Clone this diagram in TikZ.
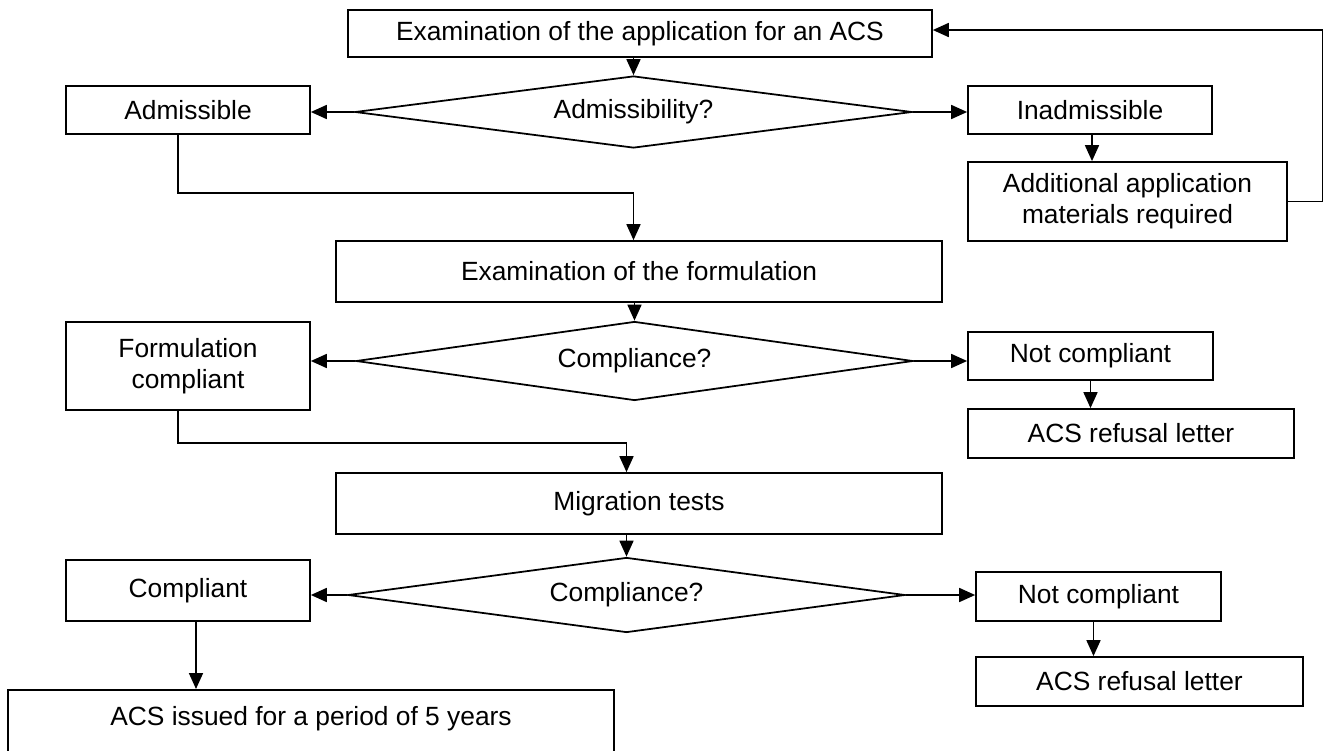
\documentclass[tikz,border=0pt]{standalone}
\usepackage{fontspec}
\setmainfont{Liberation Sans}
\usepackage{tikz}
\usetikzlibrary{arrows.meta, positioning, shapes.geometric, calc}

\begin{document}
\begin{tikzpicture}[
    x=0.02cm, y=-0.02cm,
    box/.style={draw, rectangle, line width=1pt, inner sep=2pt, align=center,
        font=\fontsize{15}{17.5}\selectfont},
    sidebox/.style={box, minimum width=4.88cm},
    decision/.style={draw, diamond, line width=1pt, inner sep=0pt,
        minimum width=11.14cm, font=\fontsize{15}{17.5}\selectfont},
    flow/.style={line width=1pt, -{Triangle[length=0.32cm, width=0.28cm]}}
]
    \useasboundingbox (0,0) rectangle (1323,751);

    % Zulassigkeit des Antrags
    \node[box, minimum width=11.68cm, minimum height=0.94cm] (exapp) at (640,33.5) {Examination of the application for an ACS};
    \node[decision, aspect=7.74, minimum height=1.44cm] (dia1) at (633.5,112) {Admissibility?};
    \node[sidebox, minimum height=0.96cm] (adm) at (188,110) {Admissible};
    \node[sidebox, minimum height=0.96cm] (inadm) at (1090,110) {Inadmissible};
    \node[box, minimum width=6.38cm, minimum height=1.58cm] (addl) at (1127.5,201.5) {Additional application\\materials required};
    \draw[flow] (exapp.south -| dia1.north) -- (dia1.north);
    \draw[flow] (dia1.west) -- (dia1.west -| adm.east);
    \draw[flow] (dia1.east) -- (dia1.east -| inadm.west);
    \draw[flow] ([xshift=0.04cm]inadm.south) -- ([xshift=0.04cm]inadm.south |- addl.north);
    \draw[flow] (addl.east) -- ++(35,0) |- ([yshift=0.07cm]exapp.east);

    % Rezeptur
    \node[box, minimum width=12.12cm, minimum height=1.22cm] (exform) at (639,271.5) {Examination of the formulation};
    \node[decision, aspect=7.05, minimum height=1.58cm] (dia2) at (634.5,361) {Compliance?};
    \node[sidebox, minimum height=1.76cm] (fcomp) at (188,366) {Formulation\\compliant};
    \node[sidebox, minimum width=4.9cm, minimum height=0.96cm] (ncomp1) at (1090.5,356) {Not compliant};
    \node[box, minimum width=6.52cm, minimum height=0.98cm] (refuse1) at (1131,433.5) {ACS refusal letter};
    \draw[flow] ([xshift=-0.2cm]adm.south) -- ++(0,58) -| (exform.north -| dia1.south);
    \draw[flow] (exform.south -| dia2.north) -- (dia2.north);
    \draw[flow] (dia2.west) -- (dia2.west -| fcomp.east);
    \draw[flow] (dia2.east) -- (dia2.east -| ncomp1.west);
    \draw[flow] (ncomp1.south) -- (ncomp1.south |- refuse1.north);

    % Migrationsprufung
    \node[box, minimum width=12.12cm, minimum height=1.22cm] (migr) at (639,503.5) {Migration tests};
    \node[decision, aspect=7.43, minimum height=1.5cm] (dia3) at (626.5,595) {Compliance?};
    \node[sidebox, minimum height=1.22cm] (comp) at (188,590.5) {Compliant};
    \node[sidebox, minimum width=4.9cm, minimum height=0.98cm] (ncomp2) at (1098.5,596.5) {Not compliant};
    \node[box, minimum width=6.54cm, minimum height=0.98cm] (refuse2) at (1139.5,681.5) {ACS refusal letter};
    \node[box, anchor=north, minimum width=12.12cm, text height=0.45cm, text depth=1.2cm,
        inner ysep=0.26cm] (issued) at (311,689) {ACS issued for a period of 5 years};
    \draw[flow] ([xshift=-0.2cm]fcomp.south) -- ++(0,32) -| (migr.north -| dia3.north);
    \draw[flow] (migr.south -| dia3.north) -- (dia3.north);
    \draw[flow] (dia3.west) -- (dia3.west -| comp.east);
    \draw[flow] (dia3.east) -- (dia3.east -| ncomp2.west);
    \draw[flow] ([xshift=-0.1cm]ncomp2.south) -- ([xshift=-0.1cm]ncomp2.south |- refuse2.north);
    \draw[flow] ([xshift=0.16cm]comp.south) -- ([xshift=0.16cm]comp.south |- issued.north);
\end{tikzpicture}
\end{document}
